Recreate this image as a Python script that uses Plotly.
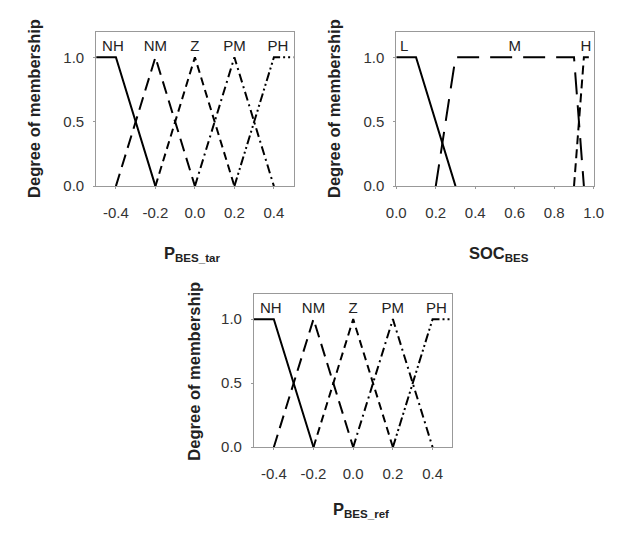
import plotly.graph_objects as go

# ---- data ----
p_names = ["NH", "NM", "Z", "PM", "PH"]
p_x = {
    "NH": [-0.5, -0.4, -0.2],
    "NM": [-0.4, -0.2, 0.0],
    "Z":  [-0.2, 0.0, 0.2],
    "PM": [0.0, 0.2, 0.4],
    "PH": [0.2, 0.4, 0.5],
}
p_y = {
    "NH": [1, 1, 0],
    "NM": [0, 1, 0],
    "Z":  [0, 1, 0],
    "PM": [0, 1, 0],
    "PH": [0, 1, 1],
}
p_label_x = [-0.415, -0.2, 0.0, 0.2, 0.42]
p_label_y = [1.08, 1.08, 1.08, 1.08, 1.08]

soc_names = ["L", "M", "H"]
soc_x = {
    "L": [0.0, 0.1, 0.3],
    "M": [0.2, 0.3, 0.9, 0.95],
    "H": [0.9, 0.95, 0.975],
}
soc_y = {
    "L": [1, 1, 0],
    "M": [0, 1, 1, 0],
    "H": [0, 1, 1],
}
soc_label_x = [0.04, 0.6, 0.96]
soc_label_y = [1.08, 1.08, 1.08]

p_ticks = [-0.4, -0.2, 0.0, 0.2, 0.4]
p_ticktext = ["-0.4", "-0.2", "0.0", "0.2", "0.4"]
soc_ticks = [0.0, 0.2, 0.4, 0.6, 0.8, 1.0]
soc_ticktext = ["0.0", "0.2", "0.4", "0.6", "0.8", "1.0"]
y_ticks = [0.0, 0.5, 1.0]
y_ticktext = ["0.0", "0.5", "1.0"]

p_dash = {
    "NH": "solid",
    "NM": "13px,7px",
    "Z": "8px,5px",
    "PM": "9px,4px,2px,4px",
    "PH": "9px,3px,2px,3px,2px,3px",
}
soc_dash = {"L": "solid", "M": "22px,11px", "H": "9px,5px"}

W, H = 627, 533
FONT = "Liberation Sans, Arial, sans-serif"

fig = go.Figure()

def px2x(p):
    return p / W

def px2y(p):
    return 1 - p / H

panels = [
    ("x", "y", (89, 293), (32, 189)),
    ("x2", "y2", (399, 603), (32, 189)),
    ("x3", "y3", (252, 457), (298, 454)),
]

for xa, ya in [("x", "y"), ("x3", "y3")]:
    for n in p_names:
        fig.add_trace(go.Scatter(x=p_x[n], y=p_y[n], mode="lines",
                                 line=dict(color="black", width=2, dash=p_dash[n]),
                                 xaxis=xa, yaxis=ya, showlegend=False,
                                 hoverinfo="skip"))
    fig.add_trace(go.Scatter(x=p_label_x, y=p_label_y, mode="text", text=p_names,
                             textfont=dict(family=FONT, size=15, color="#222"),
                             xaxis=xa, yaxis=ya, showlegend=False, cliponaxis=False))

for n in soc_names:
    fig.add_trace(go.Scatter(x=soc_x[n], y=soc_y[n], mode="lines",
                             line=dict(color="black", width=2, dash=soc_dash[n]),
                             xaxis="x2", yaxis="y2", showlegend=False,
                             hoverinfo="skip"))
fig.add_trace(go.Scatter(x=soc_label_x, y=soc_label_y, mode="text", text=soc_names,
                         textfont=dict(family=FONT, size=15, color="#222"),
                         xaxis="x2", yaxis="y2", showlegend=False, cliponaxis=False))

axis_common = dict(showgrid=False, zeroline=False, showline=True, mirror=True,
                   linecolor="#999", linewidth=1, ticks="outside", ticklen=2,
                   tickcolor="#999", tickfont=dict(family=FONT, size=15, color="#333"))

layout = dict(width=W, height=H, margin=dict(l=0, r=0, t=0, b=0),
              paper_bgcolor="white", plot_bgcolor="white", showlegend=False)

xranges = {"x": [-0.5, 0.5], "x2": [0, 1], "x3": [-0.5, 0.5]}
xticks = {"x": (p_ticks, p_ticktext), "x2": (soc_ticks, soc_ticktext),
          "x3": (p_ticks, p_ticktext)}

for xa, ya, (x0, x1), (y0, y1) in panels:
    xkey = "xaxis" if xa == "x" else "xaxis" + xa[1:]
    ykey = "yaxis" if ya == "y" else "yaxis" + ya[1:]
    tv, tt = xticks[xa]
    layout[xkey] = dict(axis_common, domain=[px2x(x0), px2x(x1)], range=xranges[xa],
                        tickvals=tv, ticktext=tt, anchor=ya, ticklabelstandoff=11)
    layout[ykey] = dict(axis_common, domain=[px2y(y1), px2y(y0)], range=[0, 1.2],
                        tickvals=y_ticks, ticktext=y_ticktext, anchor=xa,
                        ticklabelstandoff=6)

fig.update_layout(**layout)

title_font = dict(family=FONT, size=16.5, color="#222")
annots = [
    dict(text="<b>Degree of membership</b>", x=px2x(14), y=px2y(110), textangle=-90,
         xanchor="left"),
    dict(text="<b>Degree of membership</b>", x=px2x(324), y=px2y(110), textangle=-90,
         xanchor="left"),
    dict(text="<b>Degree of membership</b>", x=px2x(179), y=px2y(377), textangle=-90,
         xanchor="left"),
    dict(text="<b>P<sub>BES_tar</sub></b>", x=px2x(188), y=px2y(258), xanchor="center"),
    dict(text="<b>SOC<sub>BES</sub></b>", x=px2x(505), y=px2y(258), xanchor="center"),
    dict(text="<b>P<sub>BES_ref</sub></b>", x=px2x(363), y=px2y(518), xanchor="center"),
]
for a in annots:
    fig.add_annotation(xref="paper", yref="paper", showarrow=False,
                       yanchor="middle", font=title_font, **a)

fig.write_html("out.html")
